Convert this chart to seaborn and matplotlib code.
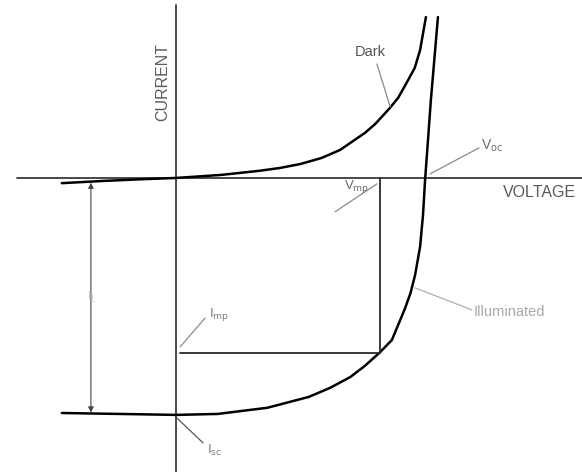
import numpy as np
import seaborn as sns
import matplotlib.pyplot as plt

# I-V curves (voltage, current in relative units)
dark_v = [-0.275, -0.18, -0.09, 0.0, 0.11, 0.20, 0.25, 0.30, 0.35, 0.395, 0.42, 0.455, 0.48,
          0.515, 0.535, 0.555, 0.575, 0.588, 0.602]
dark_i = [-0.022, -0.013, -0.006, 0.0, 0.013, 0.030, 0.042, 0.059, 0.084, 0.118, 0.148, 0.190, 0.228,
          0.295, 0.338, 0.400, 0.464, 0.540, 0.679]

illum_v = [-0.275, -0.135, 0.0, 0.10, 0.22, 0.32, 0.371, 0.42, 0.455, 0.49, 0.52, 0.54, 0.552,
           0.565, 0.576, 0.588, 0.595, 0.60, 0.607, 0.614, 0.631]
illum_i = [-0.992, -0.996, -1.0, -0.996, -0.970, -0.924, -0.886, -0.840, -0.793, -0.738, -0.684, -0.600, -0.549,
           -0.485, -0.409, -0.290, -0.156, -0.008, 0.160, 0.330, 0.679]

v_oc = 0.60
i_sc = -1.0
v_mp = 0.492
i_mp = -0.738

sns.set_style("white")
plt.rcParams["font.family"] = ["Liberation Sans", "DejaVu Sans"]

fig = plt.figure(figsize=(5.82, 4.72), dpi=100)
ax = fig.add_axes([0, 0, 1, 1])
ax.set_xlim(-0.424, 0.978)
ax.set_ylim(-1.241, 0.751)
ax.axis("off")

# axes of the diagram
ax.plot([-0.383, 0.978], [0, 0], color="#3a3a3a", lw=1.3)
ax.plot([0, 0], [-1.241, 0.73], color="#3a3a3a", lw=1.3)

# curves
sns.lineplot(x=dark_v, y=dark_i, color="black", lw=1.8, sort=False, ax=ax)
sns.lineplot(x=illum_v, y=illum_i, color="black", lw=1.8, sort=False, ax=ax)

# max power rectangle
ax.plot([v_mp, v_mp], [0, i_mp], color="#2a2a2a", lw=1.3)
ax.plot([0.01, v_mp], [i_mp, i_mp], color="#2a2a2a", lw=1.3)

# light current arrow
ax.annotate("", xy=(-0.205, -0.02), xytext=(-0.205, i_sc + 0.01),
            arrowprops=dict(arrowstyle="<|-|>", color="#444444", lw=0.8,
                            mutation_scale=8, shrinkA=0, shrinkB=0))
ax.text(-0.202, -0.506, "I$_L$", color="#c8c8c8", fontsize=9, ha="center", va="center")

txt = "#5a5a5a"
ax.text(-0.031, 0.405, "CURRENT", rotation=90, color=txt, fontsize=11.5, ha="center", va="center")
ax.text(0.875, -0.063, "VOLTAGE", color=txt, fontsize=11.5, ha="center", va="center")

# annotations with leader lines
lead = dict(color="#8a8a8a", lw=0.9)
ax.text(0.467, 0.532, "Dark", color="#555555", fontsize=10.5, ha="center", va="center")
ax.plot([0.484, 0.516], [0.481, 0.300], **lead)

ax.text(0.735, 0.135, r"V$_{\rm oc}$", color="#6a6a6a", fontsize=10, ha="left", va="center")
ax.plot([0.730, 0.612], [0.127, 0.017], **lead)

ax.text(0.436, -0.038, r"V$_{\rm mp}$", color="#6a6a6a", fontsize=9.5, ha="center", va="center")
ax.plot([0.484, 0.383], [-0.025, -0.143], **lead)

ax.text(0.08, -0.578, r"I$_{\rm mp}$", color="#7a7a7a", fontsize=9.5, ha="left", va="center")
ax.plot([0.01, 0.07], [-0.713, -0.591], **lead)

ax.text(0.075, -1.148, r"I$_{\rm sc}$", color="#7a7a7a", fontsize=9.5, ha="left", va="center")
ax.plot([0.002, 0.065], [-1.013, -1.118], color="#555555", lw=0.9)

ax.text(0.716, -0.565, "Illuminated", color="#a8a8a8", fontsize=10.5, ha="left", va="center")
ax.plot([0.576, 0.713], [-0.464, -0.557], color="#b0b0b0", lw=0.9)

fig.savefig("out.png", dpi=100)
